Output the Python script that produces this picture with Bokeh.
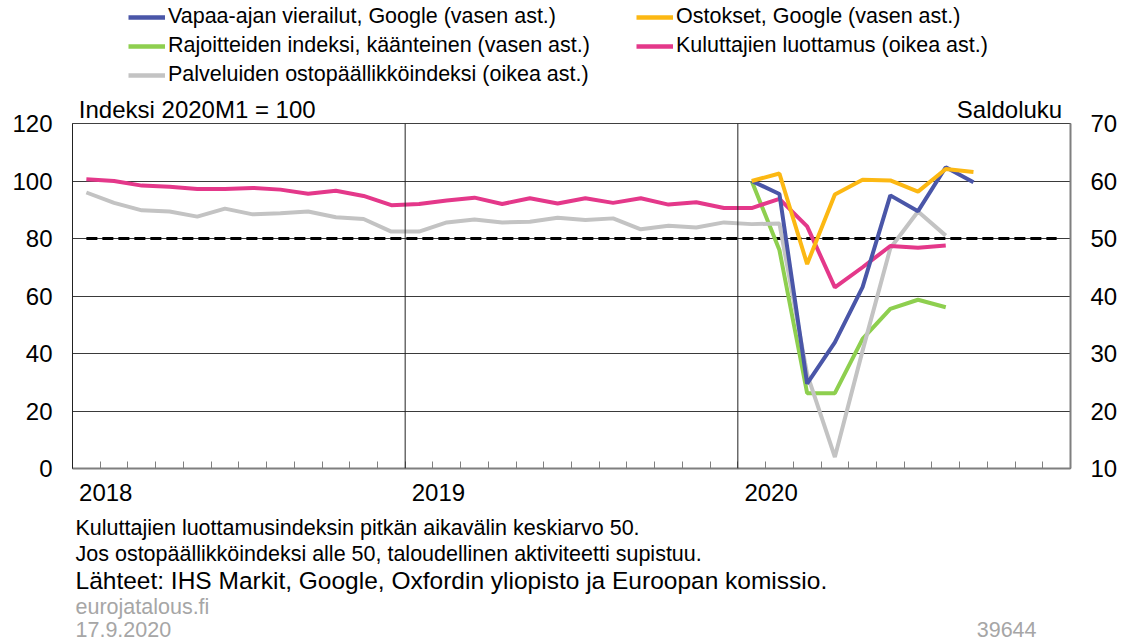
from bokeh.plotting import figure
from bokeh.layouts import column
from bokeh.models import Range1d, LinearAxis, FixedTicker, Span, Label, Legend, LegendItem
from bokeh.embed import file_html
from bokeh.resources import INLINE

FONT = "Liberation Sans"

# ---- data (monthly, Jan 2018 .. ) ----
year_labels = ["2018", "2019", "2020"]
year_starts = [0, 12, 24]
n_months = 36

# right axis (saldoluku)
kuluttajat = [60.3, 60.0, 59.2, 59.0, 58.6, 58.6, 58.8, 58.5, 57.8, 58.3, 57.4, 55.8,
              56.0, 56.6, 57.1, 56.0, 57.0, 56.1, 57.0, 56.2, 57.0, 55.9, 56.3, 55.3,
              55.3, 56.9, 52.1, 41.5, 45.0, 48.7, 48.4, 48.8]
palvelut_pmi = [58.0, 56.2, 54.9, 54.7, 53.8, 55.2, 54.2, 54.4, 54.7, 53.7, 53.4, 51.2,
                51.2, 52.8, 53.3, 52.8, 52.9, 53.6, 53.2, 53.5, 51.6, 52.2, 51.9, 52.8,
                52.5, 52.6, 26.4, 12.0, 30.5, 48.3, 54.7, 50.5]
keskiarvo = [50.0] * 36

# left axis (index 2020M1 = 100), from Jan 2020
vapaa_aika = [100.0, 95.5, 29.5, 43.9, 63.1, 95.0, 89.5, 104.8, 99.6]
ostokset = [100.0, 102.6, 71.1, 95.3, 100.4, 100.2, 96.3, 104.2, 103.1]
rajoitteet = [100.0, 76.0, 26.2, 26.2, 45.1, 55.5, 58.7, 56.1]
start_2020 = 24

names = ["Vapaa-ajan vierailut, Google (vasen ast.)",
         "Ostokset, Google (vasen ast.)",
         "Rajoitteiden indeksi, käänteinen (vasen ast.)",
         "Kuluttajien luottamus (oikea ast.)",
         "Palveluiden ostopäällikköindeksi (oikea ast.)"]
axis_titles = ["Indeksi 2020M1 = 100", "Saldoluku"]
notes = ["Kuluttajien luottamusindeksin pitkän aikavälin keskiarvo 50.",
         "Jos ostopäällikköindeksi alle 50, taloudellinen aktiviteetti supistuu.",
         "Lähteet: IHS Markit, Google, Oxfordin yliopisto ja Euroopan komissio."]
site = "eurojatalous.fi"
date = "17.9.2020"
chart_id = "39644"

C_BLUE = "#4a56a8"
C_YELLOW = "#fcb813"
C_GREEN = "#8ecf4f"
C_PINK = "#e4388a"
C_GRAY = "#c3c3c3"
colors = [C_BLUE, C_YELLOW, C_GREEN, C_PINK, C_GRAY]

W = 1124
FL, FR = 72, 1070          # plot-area left/right edge (all figures in the column share it)
H_HEAD = 91
H_MAIN = 419
H_FOOT = 643 - H_HEAD - H_MAIN


def xs(n, start=0):
    return [start + i + 0.5 for i in range(n)]


def blank_fig(h):
    f = figure(width=W, height=h, x_range=Range1d(FL, FR), y_range=Range1d(h, 0),
               output_backend="svg", toolbar_location=None, title=None,
               x_axis_location=None, y_axis_location=None,
               min_border_left=FL, min_border_right=W - FR, min_border_top=0, min_border_bottom=0)
    f.outline_line_color = None
    f.grid.visible = False
    f.background_fill_color = "white"
    f.border_fill_color = "white"
    return f


# ---------------- header with legend ----------------
hdr = blank_fig(H_HEAD)
dummies = [hdr.line([-900, -800], [-900, -900], line_color=c, line_width=4.5) for c in colors]
legend = Legend(items=[LegendItem(label=names[0], renderers=[dummies[0]]),
                       LegendItem(label=names[2], renderers=[dummies[2]]),
                       LegendItem(label=names[4], renderers=[dummies[4]]),
                       LegendItem(label=names[1], renderers=[dummies[1]]),
                       LegendItem(label=names[3], renderers=[dummies[3]])],
                location=(128 - FL, 4), orientation="vertical", nrows=3,
                label_text_font=FONT, label_text_font_size="21.5px", label_text_color="black",
                glyph_width=37, glyph_height=24, label_height=24, label_width=464,
                label_standoff=3, spacing=4, padding=0, margin=0,
                border_line_alpha=0, background_fill_alpha=0)
hdr.add_layout(legend)

# ---------------- main chart ----------------
p = figure(width=W, height=H_MAIN, x_range=Range1d(0, n_months), y_range=Range1d(0, 120),
           output_backend="svg", toolbar_location=None,
           min_border_left=FL, min_border_right=W - FR, min_border_top=123 - H_HEAD,
           min_border_bottom=H_MAIN - (468 - H_HEAD))
p.extra_y_ranges = {"right": Range1d(10, 70)}
p.outline_line_color = "#404040"
p.outline_line_width = 1
p.background_fill_color = "white"
p.border_fill_color = "white"

p.xgrid.visible = False
p.ygrid.ticker = FixedTicker(ticks=[0, 20, 40, 60, 80, 100, 120])
p.ygrid.grid_line_color = "#3a3a3a"
p.ygrid.grid_line_width = 1
for ys in year_starts[1:]:
    p.add_layout(Span(location=ys, dimension="height", line_color="#222222", line_width=1))

la = p.left[0]
la.ticker = FixedTicker(ticks=[0, 20, 40, 60, 80, 100, 120])
la.major_tick_out = 0
la.major_tick_in = 0
la.minor_tick_line_color = None
la.axis_line_color = "#222222"
la.major_label_standoff = 20
la.major_label_text_font = FONT
la.major_label_text_font_size = "24px"
la.major_label_text_color = "black"

xa = p.below[0]
tick_pos = [s + 1.2 for s in year_starts]
xa.ticker = FixedTicker(ticks=tick_pos, minor_ticks=list(range(1, n_months)))
xa.major_label_overrides = {t: l for t, l in zip(tick_pos, year_labels)}
xa.major_tick_line_color = None
xa.major_tick_out = 0
xa.major_tick_in = 0
xa.minor_tick_in = 7
xa.minor_tick_out = 0
xa.minor_tick_line_color = "#7f7f7f"
xa.axis_line_color = "#7f7f7f"
xa.axis_line_width = 2
xa.major_label_standoff = 15
xa.major_label_text_font = FONT
xa.major_label_text_font_size = "24px"
xa.major_label_text_color = "black"

ra = LinearAxis(y_range_name="right", ticker=FixedTicker(ticks=[10, 20, 30, 40, 50, 60, 70]))
ra.major_tick_out = 0
ra.major_tick_in = 0
ra.minor_tick_line_color = None
ra.axis_line_color = "#7f7f7f"
ra.axis_line_width = 2
ra.major_label_standoff = 20
ra.major_label_text_font = FONT
ra.major_label_text_font_size = "24px"
ra.major_label_text_color = "black"
p.add_layout(ra, "right")

# axis titles carried by an unlined axis above the plot area
ta = LinearAxis(ticker=FixedTicker(ticks=[4.5, 33.8]),
                major_label_overrides={4.5: axis_titles[0], 33.8: axis_titles[1]})
ta.axis_line_color = None
ta.major_tick_line_color = None
ta.minor_tick_line_color = None
ta.major_tick_out = 0
ta.major_tick_in = 0
ta.major_label_standoff = 1
ta.major_label_text_font = FONT
ta.major_label_text_font_size = "24px"
ta.major_label_text_color = "black"
p.add_layout(ta, "above")

p.line(xs(36), keskiarvo, y_range_name="right", line_color="black", line_width=3, line_dash="11 5")
p.line(xs(len(rajoitteet), start_2020), rajoitteet, line_color=C_GREEN, line_width=4)
p.line(xs(len(palvelut_pmi)), palvelut_pmi, y_range_name="right", line_color=C_GRAY, line_width=4)
p.line(xs(len(kuluttajat)), kuluttajat, y_range_name="right", line_color=C_PINK, line_width=4)
p.line(xs(len(vapaa_aika), start_2020), vapaa_aika, line_color=C_BLUE, line_width=4)
p.line(xs(len(ostokset), start_2020), ostokset, line_color=C_YELLOW, line_width=4)

# ---------------- footer ----------------
ftr = blank_fig(H_FOOT)
y0 = H_HEAD + H_MAIN


def note(x, y_page, t, size, color="black", align="left"):
    ftr.add_layout(Label(x=x, y=y_page - y0, text=t, text_font=FONT, text_font_size=size,
                         text_color=color, text_align=align, text_baseline="middle"))


note(75, 527, notes[0], "21.5px")
note(75, 553, notes[1], "21.5px")
note(75, 580, notes[2], "24.5px")
note(75, 606, site, "21.5px", color="#a6a6a6")
note(75, 629, date, "21.5px", color="#a6a6a6")
note(1036, 629, chart_id, "21.5px", color="#a6a6a6", align="right")

layout = column(hdr, p, ftr, spacing=0)
open("out.html", "w").write(file_html(layout, INLINE))
